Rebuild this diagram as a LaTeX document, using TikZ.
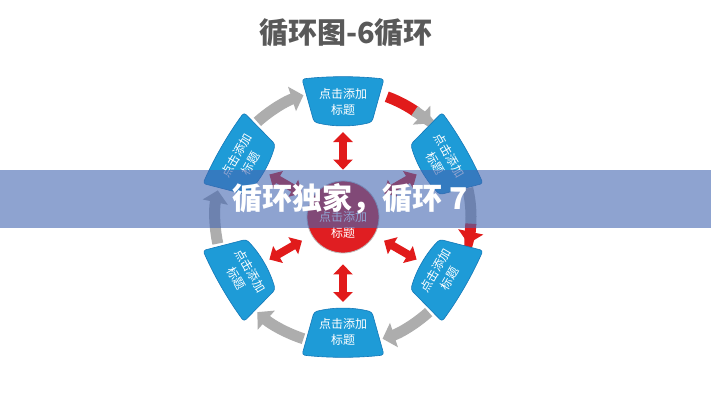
\documentclass[tikz,border=0pt]{standalone}
\usepackage{fontspec}
\newfontfamily\cjk{Noto Sans CJK SC}
\usetikzlibrary{arrows.meta,calc}
\definecolor{boxblue}{HTML}{1E9BD7}
\definecolor{boxedge}{HTML}{1478B8}
\definecolor{spokered}{HTML}{E11B1B}
\definecolor{hubred}{HTML}{E01E22}
\definecolor{cyclegray}{HTML}{ADADAD}
\definecolor{bandblue}{HTML}{4366B1}
\definecolor{titlegray}{HTML}{595959}

\begin{document}
\begin{tikzpicture}[x=1pt,y=1pt,>=Latex,
  box/.style={fill=boxblue,draw=boxedge,line width=0.6pt,rounded corners=3pt},
  boxtext/.style={text=white,font=\cjk\fontsize{12}{16}\selectfont,align=center,inner sep=0pt},
  spoke/.style={spokered,line width=8pt,{Triangle[length=10pt,width=19pt]}-{Triangle[length=10pt,width=19pt]}},
  cyc/.style={cyclegray,line width=11pt,-{Triangle[length=12pt,width=25pt]}}]
\useasboundingbox (0,0) rectangle (711,400);
\fill[white] (0,0) rectangle (711,400);
\coordinate (c) at (343,183);
% title
\node[font=\cjk\bfseries\fontsize{29}{32}\selectfont,text=titlegray] (title) at (346,367) {循环图-6循环};
% gray cycle arrows
\foreach \m in {120,180,240,300}
  \draw[cyc] ($(c)+(\m+12:128)$) arc[start angle=\m+12,end angle=\m-12,radius=128];
\draw[spokered,line width=11pt] ($(c)+(70:128)$) arc[start angle=70,end angle=55,radius=128];
\draw[cyc] ($(c)+(56:128)$) arc[start angle=56,end angle=47,radius=128];
\draw[cyclegray,line width=11pt] ($(c)+(13:128)$) arc[start angle=13,end angle=-4,radius=128];
\draw[cyc,spokered] ($(c)+(-3:128)$) arc[start angle=-3,end angle=-12,radius=128];
% hub
\node[circle,minimum size=72pt,inner sep=0pt,fill=hubred,draw=black!25,line width=0.8pt] (hub) at (c) {};
\node[boxtext] (hubtext) at ($(hub.center)+(0,-8)$) {点击添加\\标题};
% boxes and spokes
\foreach \a/\t [count=\i] in {90/0,30/-60,-30/60,-90/0,-150/-60,150/60} {
  \begin{scope}[shift={(c)},rotate=\a-90]
    \draw[box] (-41,138) .. controls (-14,141) and (14,141) .. (41,138) -- (29,95)
      .. controls (10,90) and (-10,90) .. (-29,95) -- cycle;
  \end{scope}
  \node[boxtext,rotate=\t] (b\i) at ($(c)+(\a:115)$) {点击添加\\标题};
  \coordinate (p\i) at ($(c)+(\a:85)$);
  \draw[spoke,shorten <=11pt] (hub) -- (p\i);
}
% banner
\node[fill=bandblue,opacity=0.6,minimum width=711pt,minimum height=58pt,inner sep=0pt] (band) at (355.5,201) {};
\node[anchor=west,inner sep=0pt,text=white,font=\cjk\bfseries\fontsize{30}{32}\selectfont] (bandtext) at (232,201) {循环独家，循环 7};
\end{tikzpicture}
\end{document}
